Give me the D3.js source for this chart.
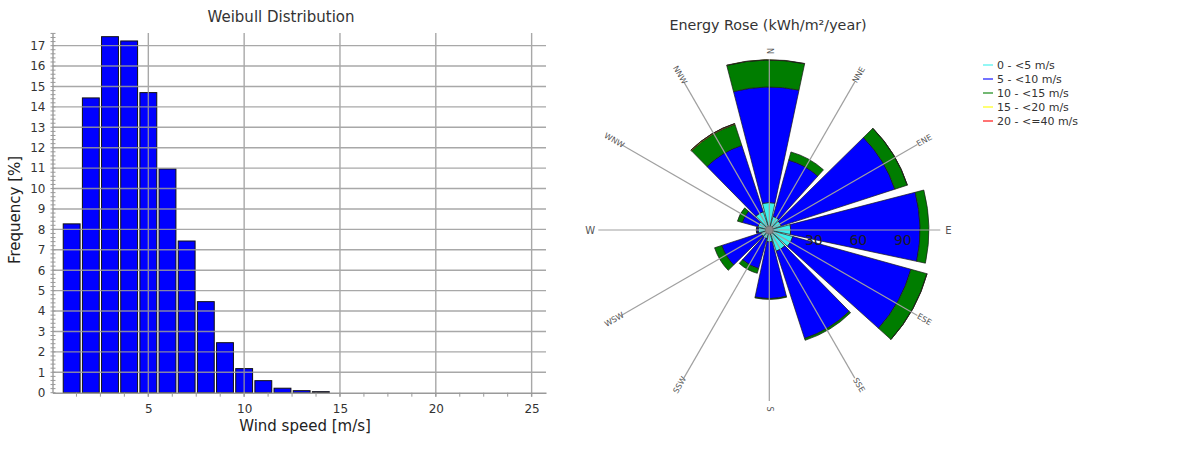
<!DOCTYPE html>
<html>
<head>
<meta charset="utf-8">
<script src="https://cdn.jsdelivr.net/npm/d3@7"></script>
<style>
  html, body { margin: 0; padding: 0; background: #fff; }
  svg { display: block; font-family: "DejaVu Sans", Verdana, sans-serif; }
</style>
</head>
<body>
<svg id="chart" width="1192" height="450"></svg>
<script>
// ---- Weibull histogram data ----
const speedBins = [1, 2, 3, 4, 5, 6, 7, 8, 9, 10, 11, 12, 13, 14];
const frequency = [8.27, 14.44, 17.44, 17.23, 14.70, 10.96, 7.43, 4.46, 2.45, 1.18, 0.59, 0.22, 0.1, 0.05];
const freqTicks = [0, 1, 2, 3, 4, 5, 6, 7, 8, 9, 10, 11, 12, 13, 14, 15, 16, 17];
const speedTicks = [5, 10, 15, 20, 25];

// ---- Energy rose data (kWh/m²/year per speed class) ----
const directions = ["N", "NNE", "ENE", "E", "ESE", "SSE", "S", "SSW", "WSW", "W", "WNW", "NNW"];
const energy0to5 = [18.5, 9.5, 8.5, 14.5, 16.5, 15, 8, 6, 6, 7.5, 8, 13];
const energy5to10 = [77.9, 39.4, 80.5, 87.1, 82.6, 61.9, 38.2, 21, 27.7, 1, 10.9, 47];
const energy10to15 = [18.2, 5.7, 8.8, 6.0, 11.2, 1.3, 0.6, 3.3, 5.1, 0.3, 3.4, 14.8];
const energy15to20 = [0.2, 0, 0.1, 0, 0.1, 0, 0, 0, 0, 0, 0, 0.6];
const energy20to40 = [0, 0, 0, 0, 0, 0, 0, 0, 0, 0, 0, 0.1];
const speedClasses = ["0 - <5 m/s", "5 - <10 m/s", "10 - <15 m/s", "15 - <20 m/s", "20 - <=40 m/s"];
const classColors = ["#3cf0ec", "#0000ff", "#007d00", "#ffff00", "#ff0000"];
const radialTicks = [30, 60, 90];

const svg = d3.select("#chart");

// ================= Weibull Distribution =================
const x = d3.scaleLinear().domain([0, 25.75]).range([52.5, 546]);
const y = d3.scaleLinear().domain([0, 17.62]).range([392.7, 33]);

const left = svg.append("g");

left.append("text")
  .attr("x", 281).attr("y", 22)
  .attr("text-anchor", "middle")
  .attr("font-size", 15).attr("fill", "#333")
  .text("Weibull Distribution");

// bars
left.append("g").selectAll("rect")
  .data(speedBins.map((b, i) => ({ b, v: frequency[i] })))
  .join("rect")
  .attr("x", d => x(d.b - 0.44))
  .attr("width", d => x(d.b + 0.44) - x(d.b - 0.44))
  .attr("y", d => y(d.v))
  .attr("height", d => y(0) - y(d.v))
  .attr("fill", "#0000ff")
  .attr("stroke", "#111")
  .attr("stroke-width", 1);

// grid drawn over the bars
const grid = left.append("g").attr("stroke", "#9a9a9a").attr("stroke-width", 1.4).attr("opacity", 0.85);
grid.selectAll(".h").data(freqTicks.filter(t => t > 0)).join("line")
  .attr("x1", x(0)).attr("x2", x(25.75))
  .attr("y1", d => y(d)).attr("y2", d => y(d));
grid.selectAll(".v").data(speedTicks).join("line")
  .attr("x1", d => x(d)).attr("x2", d => x(d))
  .attr("y1", y(17.62)).attr("y2", y(0) + 4);

// axes
const yAxis = d3.axisLeft(y).tickValues(freqTicks).tickSize(0).tickPadding(7);
const yg = left.append("g").attr("transform", `translate(${x(0)},0)`).call(yAxis);
yg.select(".domain").attr("stroke", "#9a9a9a").attr("stroke-width", 1.4);
yg.selectAll("text").attr("font-size", 12).attr("fill", "#333").attr("font-family", "DejaVu Sans, sans-serif");

const yMinor = d3.range(0, 17.61, 0.2);
left.append("g").attr("stroke", "#9a9a9a").attr("stroke-width", 1)
  .selectAll("line").data(yMinor).join("line")
  .attr("x1", x(0) - 2).attr("x2", x(0) + 3)
  .attr("y1", d => y(d)).attr("y2", d => y(d));

const xAxis = d3.axisBottom(x).tickValues(speedTicks).tickSize(0).tickPadding(12);
const xg = left.append("g").attr("transform", `translate(0,${y(0)})`).call(xAxis);
xg.select(".domain").attr("stroke", "#9a9a9a").attr("stroke-width", 1.4);
xg.selectAll("text").attr("font-size", 12).attr("fill", "#333").attr("font-family", "DejaVu Sans, sans-serif");

const xMinor = d3.range(1.25, 25.75, 1.25);
left.append("g").attr("stroke", "#9a9a9a").attr("stroke-width", 1)
  .selectAll("line").data(xMinor).join("line")
  .attr("x1", d => x(d)).attr("x2", d => x(d))
  .attr("y1", y(0)).attr("y2", y(0) + 4);

left.append("text")
  .attr("transform", "translate(20,210) rotate(-90)")
  .attr("text-anchor", "middle")
  .attr("font-size", 15).attr("fill", "#222")
  .text("Frequency [%]");

left.append("text")
  .attr("x", 305).attr("y", 431)
  .attr("text-anchor", "middle")
  .attr("font-size", 15).attr("fill", "#222")
  .text("Wind speed [m/s]");

// ================= Energy Rose =================
const cx = 769.3, cy = 230;
const r = d3.scaleLinear().domain([0, 30]).range([0, 44.5]);
const rose = svg.append("g").attr("transform", `translate(${cx},${cy})`);

svg.append("text")
  .attr("x", 768).attr("y", 30)
  .attr("text-anchor", "middle")
  .attr("font-size", 14.3).attr("fill", "#333")
  .text("Energy Rose (kWh/m²/year)");

const classes = [energy0to5, energy5to10, energy10to15, energy15to20, energy20to40];
const segs = [];
directions.forEach((dir, i) => {
  const a = i * 30 * Math.PI / 180;
  let acc = 0;
  classes.forEach((arr, k) => {
    const v = arr[i];
    if (v > 0) segs.push({ a, y0: acc, y1: acc + v, k });
    acc += v;
  });
});

const deg = Math.PI / 180;
const arc = d3.arc()
  .innerRadius(d => r(d.y0))
  .outerRadius(d => r(d.y1))
  .startAngle(d => d.a - 14.5 * deg)
  .endAngle(d => d.a + 12 * deg);

rose.append("g").selectAll("path").data(segs).join("path")
  .attr("d", arc)
  .attr("fill", d => classColors[d.k])
  .attr("stroke", "#1a1a1a")
  .attr("stroke-width", 0.7);

// direction spokes and labels
const spokeR = 171, labelR = 179;
rose.append("g").selectAll("line").data(directions).join("line")
  .attr("x1", 0).attr("y1", 0)
  .attr("x2", (d, i) => spokeR * Math.sin(i * 30 * deg))
  .attr("y2", (d, i) => -spokeR * Math.cos(i * 30 * deg))
  .attr("stroke", "#a0a0a0").attr("stroke-width", 1.2);

rose.append("g").selectAll("text").data(directions).join("text")
  .attr("transform", (d, i) => {
    const ang = i * 30;
    const px = labelR * Math.sin(ang * deg), py = -labelR * Math.cos(ang * deg);
    let rot = ang > 0 && ang <= 180 ? ang - 90 : (ang === 0 ? 90 : ang - 270);
    return `translate(${px},${py}) rotate(${rot})`;
  })
  .attr("text-anchor", "middle")
  .attr("dominant-baseline", "central")
  .attr("font-size", d => (d === "E" || d === "W") ? 10 : 8)
  .attr("fill", "#555")
  .text(d => d);

rose.append("circle").attr("r", 4).attr("fill", "#888").attr("stroke", "#666").attr("stroke-width", 0.6);

rose.append("g").selectAll("text").data(radialTicks).join("text")
  .attr("x", d => r(d)).attr("y", 10)
  .attr("text-anchor", "middle")
  .attr("dominant-baseline", "central")
  .attr("font-size", 14).attr("fill", "#1a1a2a")
  .text(d => d);

// legend
const legend = svg.append("g").attr("transform", "translate(983,65)");
speedClasses.forEach((label, i) => {
  const g = legend.append("g").attr("transform", `translate(0,${i * 14})`);
  g.append("line").attr("x1", 0).attr("x2", 10).attr("y1", 0).attr("y2", 0)
    .attr("stroke", classColors[i]).attr("stroke-width", 2).attr("stroke-opacity", 0.55);
  g.append("text").attr("x", 14).attr("y", 0)
    .attr("dominant-baseline", "central")
    .attr("font-size", 11).attr("fill", "#333")
    .text(label);
});
</script>
</body>
</html>
